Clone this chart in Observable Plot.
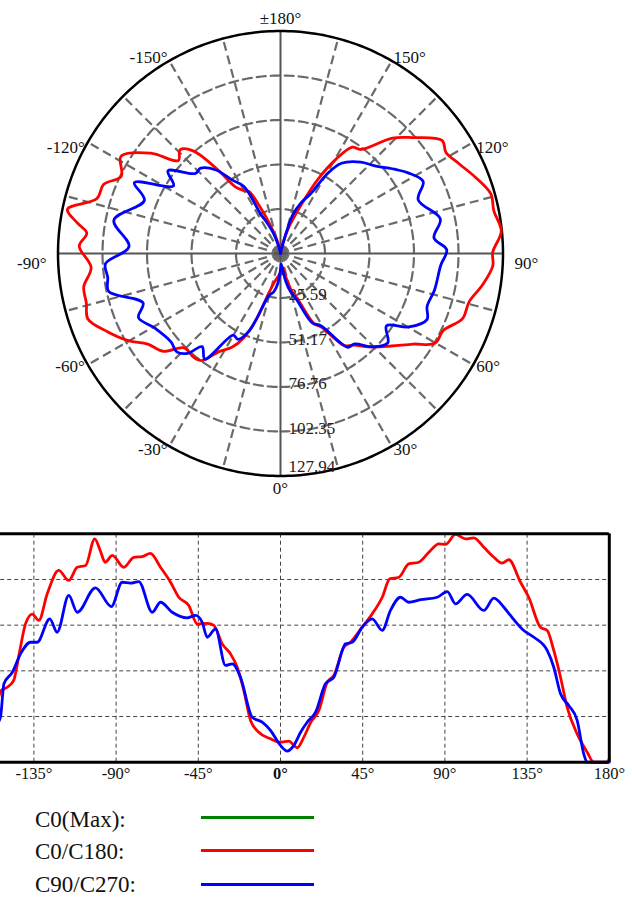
<!DOCTYPE html>
<html>
<head>
<meta charset="utf-8">
<script src="https://cdn.jsdelivr.net/npm/d3@7"></script>
<script src="https://cdn.jsdelivr.net/npm/@observablehq/plot@0.6"></script>
<style>
  html, body { margin: 0; padding: 0; background: #fff; }
  body { width: 632px; height: 900px; overflow: hidden; font-family: "Liberation Serif", "Times New Roman", serif; }
  #polar, #cart { width: 632px; }
  #polar svg, #cart svg { display: block; max-width: none; }
  #legend { position: relative; width: 632px; height: 110px; }
  .lt { position: absolute; left: 35px; font-size: 23px; line-height: 23px; color: #111; white-space: nowrap; }
  .ll { position: absolute; left: 201px; width: 113px; height: 3px; }
</style>
</head>
<body>
<div id="polar"></div>
<div id="cart"></div>
<div id="legend"></div>
<script>
// ---------- data ----------
const maxValue = 127.94;
const ringValues = [25.59, 51.17, 76.76, 102.35, 127.94];
const ringLabels = ["25.59", "51.17", "76.76", "102.35", "127.94"];

const angleTicks  = [0, 30, 60, 90, 120, 150, 180, -150, -120, -90, -60, -30];
const angleLabels = ["0°", "30°", "60°", "90°", "120°", "150°", "±180°", "-150°", "-120°", "-90°", "-60°", "-30°"];

const cartTicks = [-135, -90, -45, 0, 45, 90, 135, 180];
const cartTickLabels = ["-135°", "-90°", "-45°", "0°", "45°", "90°", "135°", "180°"];

// C0/C180 (red)
const redAngles = [-180,-175,-170,-165,-160,-156,-153,-149.6,-146,-143,-139.6,-135.9,-132.3,-127.7,-121.4,-115.9,-111.3,-106.7,-101.7,-98.5,-96,-92.1,-85.8,-80.3,-75.7,-71.2,-65.7,-60.2,-55.7,-50.2,-45.6,-40,-36.5,-31.9,-27.4,-23.7,-20.1,-16.4,-11.9,-5.5,0,4.6,9.1,12.8,16.4,21,25.6,29.2,34.7,38.3,44.7,50.2,55.7,59.8,64.8,70.2,75.7,81.2,86.7,90.3,95.8,101.3,105.8,111.3,116.8,121.4,125,131.4,135.9,142.3,146,149.6,153.3,156.9,162.4,167.9,171.5,178.8,180];
const redValues = [1,1,3,8,18,30,40,42,46,61,77.5,83,79.4,94.3,107.4,101.8,109.2,110.2,125.1,118,112,115.8,109.2,114.8,115.2,117,109.2,100.8,92.4,87.8,77.5,77.8,76.6,66.3,60.7,53.2,40.2,23.4,16.8,13.1,11.2,11.8,8.1,14,22,29,44.8,48.6,64.4,67.2,75.6,83.1,92.4,102.7,103.6,111.1,112,117.6,122.3,122,127.6,125.1,125.7,120.4,114.8,111.5,113.4,100.8,92.4,75.6,73.8,62.6,47.6,30.8,15.9,5.6,0,0,1.9];

// C90/C270 (blue)
const blueAngles = [-180,-172,-166,-161,-156,-153.3,-151.4,-146.8,-142.3,-136.9,-133.2,-126.3,-122.3,-115.9,-111.3,-101.3,-92.6,-86.7,-82.1,-77.6,-70.2,-65.7,-59.3,-51.1,-46.5,-42.9,-40.1,-35.6,-30.1,-26.4,-21.9,-15.5,-10,-5.5,0,3.7,7.3,11,14.6,19.2,24.6,29.2,35.6,39.3,44.7,50.2,55.7,60.2,65.7,70.2,76.6,85.8,91.3,95.8,102.2,111.3,116.8,122.3,125.9,133.2,138.7,146,149.6,153.3,157.8,162.4,166,167.9,180];
const blueValues = [0,0,4,12,20,25.2,43.9,50.4,60.7,67.2,67.2,80.3,72.8,93.4,84,97.7,87.2,100.8,100.3,101.2,84,89.6,84,80.9,82.2,78.4,70,74.7,54.2,55.1,47.6,25.2,22.4,17.8,9.4,6.2,9.4,16.8,22.4,28,43.9,47.6,66.3,67.2,75.6,80.3,73.8,85,92.4,89.6,91,92.4,95.6,88.7,94,85,91.9,86.8,82.2,73.8,70,62.6,53.2,38.3,31.8,23.4,4.7,0,0];

const legendLabels = ["C0(Max):", "C0/C180:", "C90/C270:"];
const legendColors = ["#008000", "#ff0000", "#0000ff"];

// ---------- helpers ----------
const red  = redAngles.map((a, i) => ({a, v: redValues[i]}));
const blue = blueAngles.map((a, i) => ({a, v: blueValues[i]}));
const rad = d => d * Math.PI / 180;
const px = (a, v) => v * Math.sin(rad(a));
const py = (a, v) => v * Math.cos(rad(a));

const circleAngles = d3.range(0, 361, 1);
const innerRings = ringValues.slice(0, 4).flatMap(r => circleAngles.map(a => ({r, a})));
const outerRing = circleAngles.map(a => ({r: maxValue, a}));
const spokeAngles = d3.range(-165, 181, 15);
const dashedSpokes = spokeAngles.filter(a => a % 90 !== 0);
const solidSpokes = spokeAngles.filter(a => a % 90 === 0);

const pxPerUnit = 222.5 / maxValue;
const labelR = 226 / pxPerUnit;
const labelRv = 235 / pxPerUnit;
const labelRh = 234 / pxPerUnit;
const lab = angleTicks.map((a, i) => ({a, t: angleLabels[i]}));
const labV = lab.filter(d => d.a === 0 || d.a === 180);
const labR = lab.filter(d => d.a > 0 && d.a < 180 && d.a !== 90 && d.a !== 120);
const labL = lab.filter(d => d.a < 0 && d.a > -180 && d.a !== -90 && d.a !== -120);
const labR120 = lab.filter(d => d.a === 120);
const labL120 = lab.filter(d => d.a === -120);
const labR90 = lab.filter(d => d.a === 90);
const labL90 = lab.filter(d => d.a === -90);
const ringLab = ringValues.map((r, i) => ({r, t: ringLabels[i]}));

const gridStyle = {stroke: "#6a6a6a", strokeWidth: 2.2, strokeDasharray: "9,5"};
const lx = r => d => px(d.a, r);
const ly = r => d => py(d.a, r);

// ---------- polar ----------
const polar = Plot.plot({
  width: 632, height: 500,
  marginLeft: 0, marginRight: 0, marginTop: 0, marginBottom: 0,
  x: {domain: [-maxValue, maxValue], range: [57.5, 502.5], axis: null},
  y: {domain: [-maxValue, maxValue], range: [30.5, 475.5], axis: null},
  style: {fontFamily: "'Liberation Serif', 'Times New Roman', serif", fontSize: "17px", color: "#111", background: "#fff"},
  marks: [
    Plot.line(innerRings, {x: d => px(d.a, d.r), y: d => py(d.a, d.r), z: "r", ...gridStyle}),
    Plot.link(dashedSpokes, {x1: () => 0, y1: () => 0, x2: a => px(a, maxValue), y2: a => py(a, maxValue), ...gridStyle}),
    Plot.link(solidSpokes, {x1: () => 0, y1: () => 0, x2: a => px(a, maxValue), y2: a => py(a, maxValue), stroke: "#555", strokeWidth: 2}),
    Plot.line(outerRing, {x: d => px(d.a, d.r), y: d => py(d.a, d.r), stroke: "#000", strokeWidth: 2.5}),
    Plot.text(ringLab.slice(0, 4), {x: () => 0, y: d => d.r, text: "t", textAnchor: "start", dx: 8, dy: -3, fill: "#222"}),
    Plot.text(ringLab.slice(4), {x: () => 0, y: d => d.r, text: "t", textAnchor: "start", dx: 8, dy: -9, fill: "#222"}),
    Plot.line(red, {x: d => px(d.a, d.v), y: d => py(d.a, d.v), stroke: "#ff0000", strokeWidth: 2.8, curve: "catmull-rom"}),
    Plot.line(blue, {x: d => px(d.a, d.v), y: d => py(d.a, d.v), stroke: "#0000ff", strokeWidth: 2.8, curve: "catmull-rom"}),
    Plot.text(labV, {x: lx(labelRv), y: ly(labelRv), text: "t", textAnchor: "middle", fill: "#111"}),
    Plot.text(labR, {x: lx(labelR), y: ly(labelR), text: "t", textAnchor: "start", fill: "#111"}),
    Plot.text(labL, {x: lx(labelR), y: ly(labelR), text: "t", textAnchor: "end", fill: "#111"}),
    Plot.text(labR120, {x: lx(labelR), y: ly(labelR), text: "t", textAnchor: "start", dy: 7, fill: "#111"}),
    Plot.text(labL120, {x: lx(labelR), y: ly(labelR), text: "t", textAnchor: "end", dy: 7, fill: "#111"}),
    Plot.text(labR90, {x: lx(labelRh), y: ly(labelRh), text: "t", textAnchor: "start", dy: 10, fill: "#111"}),
    Plot.text(labL90, {x: lx(labelRh), y: ly(labelRh), text: "t", textAnchor: "end", dy: 10, fill: "#111"})
  ]
});
document.getElementById("polar").appendChild(polar);

// ---------- cartesian ----------
const cart = Plot.plot({
  width: 632, height: 290,
  marginLeft: 0, marginRight: 0, marginTop: 33.3, marginBottom: 28.3,
  x: {domain: [-180, 180], range: [-48.8, 608.8], axis: null},
  y: {domain: [0, maxValue], axis: null},
  style: {fontFamily: "'Liberation Serif', 'Times New Roman', serif", fontSize: "16.5px", color: "#111", background: "#fff"},
  marks: [
    Plot.ruleY(ringValues.slice(0, 4), {x1: () => -180, x2: () => 180, stroke: "#444", strokeWidth: 1, strokeDasharray: "4,3"}),
    Plot.ruleX(cartTicks.slice(0, -1), {y1: () => 0, y2: () => maxValue, stroke: "#444", strokeWidth: 1, strokeDasharray: "4,3"}),
    Plot.line(red, {x: "a", y: "v", stroke: "#ff0000", strokeWidth: 2.8, curve: "monotone-x"}),
    Plot.line(blue, {x: "a", y: "v", stroke: "#0000ff", strokeWidth: 2.8, curve: "monotone-x"}),
    Plot.ruleY([0, maxValue], {x1: () => -180, x2: () => 180, stroke: "#000", strokeWidth: 3}),
    Plot.ruleX([-180, 180], {y1: () => 0, y2: () => maxValue, stroke: "#000", strokeWidth: 3}),
    Plot.text(cartTicks.map((t, i) => ({t, s: cartTickLabels[i]})).filter(d => d.t !== 0), {x: "t", y: () => 0, text: "s", lineAnchor: "top", dy: 5, fill: "#111"}),
    Plot.text(cartTicks.map((t, i) => ({t, s: cartTickLabels[i]})).filter(d => d.t === 0), {x: "t", y: () => 0, text: "s", lineAnchor: "top", dy: 5, fill: "#111", fontWeight: "bold"})
  ]
});
document.getElementById("cart").appendChild(cart);

// ---------- legend ----------
const legend = document.getElementById("legend");
const textTops = [17.8, 49.8, 82.5];
const lineTops = [26.2, 58.5, 92.5];
legendLabels.forEach((l, i) => {
  const t = document.createElement("div");
  t.className = "lt"; t.textContent = l; t.style.top = textTops[i] + "px";
  legend.appendChild(t);
  const s = document.createElement("div");
  s.className = "ll"; s.style.top = lineTops[i] + "px"; s.style.background = legendColors[i];
  legend.appendChild(s);
});
</script>
</body>
</html>
